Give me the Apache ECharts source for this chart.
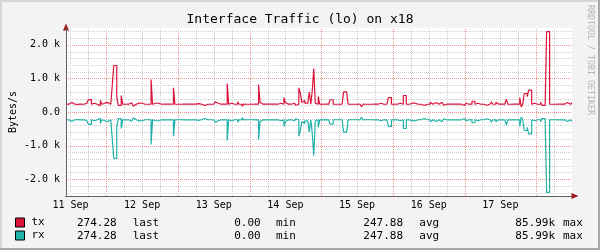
<!DOCTYPE html>
<html><head><meta charset="utf-8">
<script src="https://cdn.jsdelivr.net/npm/echarts@6/dist/echarts.min.js"></script>
<style>html,body{margin:0;padding:0;background:#f3f3f3}#c{width:600px;height:250px}</style>
</head><body><div id="c"></div>
<script>
// ---------- texts ----------
const TITLE = 'Interface Traffic (lo) on x18';
const Y_NAME = 'Bytes/s';
const CREDIT = 'RRDTOOL / TOBI OETIKER';
// ---------- x axis (hours since 11 Sep 00:00) ----------
const dayLabels = ['11 Sep','12 Sep','13 Sep','14 Sep','15 Sep','16 Sep','17 Sep'];
const dayLabelHours = [12, 36, 60, 84, 108, 132, 156];
const START_HOUR = 10.5, STEP_HOURS = 0.5, END_HOUR = 180;
// ---------- y axis ----------
const yTickValues = [-2000, -1000, 0, 1000, 2000];
const yTickLabels = ['-2.0 k', '-1.0 k', '0.0', '1.0 k', '2.0 k'];
// ---------- series (bytes/s, 30 min steps) ----------
const seriesNames = ['tx', 'rx'];
const txValues = [
230,232,285,285,232,230,230,228,230,232,230,230,262,262,230,370,370,232,262,262,
232,230,190,340,232,262,232,285,232,230,230,800,1384,1384,450,195,195,491,232,230,
265,232,230,275,232,175,230,232,265,232,260,232,230,232,230,228,232,967,232,260,
232,260,232,230,230,232,230,232,200,232,270,232,720,232,230,232,230,230,232,230,
232,262,232,230,232,262,232,230,250,232,230,232,195,232,230,232,230,228,232,230,
300,262,262,232,230,232,195,232,848,232,262,232,230,232,230,300,232,230,165,232,
230,232,230,232,230,228,232,230,232,818,285,232,262,232,230,232,230,232,262,232,
230,232,230,262,232,230,430,285,232,230,232,230,262,232,200,232,720,560,285,340,
262,262,232,590,232,640,1295,262,232,460,232,230,262,232,262,232,230,365,365,232,
230,232,230,232,230,232,600,600,600,232,230,232,230,232,230,228,232,230,160,232,
230,232,230,232,230,262,232,230,232,230,262,232,230,285,232,230,430,430,232,230,
262,232,230,262,232,230,491,491,232,230,232,262,262,262,232,230,232,230,195,195,
232,230,232,230,290,232,230,280,262,232,230,290,290,200,232,230,232,262,232,230,
232,262,232,230,232,230,195,232,262,232,230,232,320,320,232,262,232,230,232,230,
280,200,232,230,232,300,232,230,290,232,230,232,230,232,230,385,232,230,262,232,
230,232,230,232,430,150,232,550,550,455,650,650,232,262,232,230,232,230,290,195,
195,232,2390,2390,232,230,232,230,262,232,230,232,230,232,230,280,232,232,274
];
// loopback interface: rx identical to tx (drawn mirrored below zero)
const rxValues = [
230,232,285,285,232,230,230,228,230,232,230,230,262,262,230,370,370,232,262,262,
232,230,190,340,232,262,232,285,232,230,230,800,1384,1384,450,195,195,491,232,230,
265,232,230,275,232,175,230,232,265,232,260,232,230,232,230,228,232,967,232,260,
232,260,232,230,230,232,230,232,200,232,270,232,720,232,230,232,230,230,232,230,
232,262,232,230,232,262,232,230,250,232,230,232,195,232,230,232,230,228,232,230,
300,262,262,232,230,232,195,232,848,232,262,232,230,232,230,300,232,230,165,232,
230,232,230,232,230,228,232,230,232,818,285,232,262,232,230,232,230,232,262,232,
230,232,230,262,232,230,430,285,232,230,232,230,262,232,200,232,720,560,285,340,
262,262,232,590,232,640,1295,262,232,460,232,230,262,232,262,232,230,365,365,232,
230,232,230,232,230,232,600,600,600,232,230,232,230,232,230,228,232,230,160,232,
230,232,230,232,230,262,232,230,232,230,262,232,230,285,232,230,430,430,232,230,
262,232,230,262,232,230,491,491,232,230,232,262,262,262,232,230,232,230,195,195,
232,230,232,230,290,232,230,280,262,232,230,290,290,200,232,230,232,262,232,230,
232,262,232,230,232,230,195,232,262,232,230,232,320,320,232,262,232,230,232,230,
280,200,232,230,232,300,232,230,290,232,230,232,230,232,230,385,232,230,262,232,
230,232,230,232,430,150,232,550,550,455,650,650,232,262,232,230,232,230,290,195,
195,232,2390,2390,232,230,232,230,262,232,230,232,230,232,230,280,232,232,274
];
// ---------- legend statistics ----------
const statNames = ['last', 'min', 'avg', 'max'];
const txStats = ['274.28', '0.00', '247.88', '85.99k'];
const rxStats = ['274.28', '0.00', '247.88', '85.99k'];

// ---------- styling ----------
const FONT = '"DejaVu Sans Mono", monospace';
const TX_COLOR = '#dc143c', RX_COLOR = '#20b2aa';
const GRID_C = '#cdcdcd', MGRID_C = '#f29090';
const AXIS_C = '#606060', ARROW_C = '#a01818';
const Y_MIN = -2500, Y_MAX = 2500;

function toPairs(vals, sign) {
  const out = vals.map((v, j) => [START_HOUR + j * STEP_HOURS, sign * v]);
  out.push([END_HOUR, sign * vals[vals.length - 1]]);
  return out;
}
// grid lines
const vGrid = [];
for (let h = 12; h < END_HOUR; h += 6) vGrid.push({value: [h, 0], major: h % 24 === 0});
const hGrid = [];
for (let v = -2400; v <= 2400; v += 200) hGrid.push({value: [START_HOUR, v], major: v % 1000 === 0});

function xFmt(v) {
  for (let i = 0; i < dayLabelHours.length; i++) if (Math.abs(v - dayLabelHours[i]) < 1e-6) return dayLabels[i];
  return '';
}
function yFmt(v) {
  for (let i = 0; i < yTickValues.length; i++) if (Math.abs(v - yTickValues[i]) < 1e-6) return yTickLabels[i];
  return '';
}

const chart = echarts.init(document.getElementById('c'), null, {renderer: 'canvas'});

const statX = [116.7, 260.7, 403, 555];
const nameX = [132.7, 276, 419.3, 563];
const rowY = [223, 236.5];
const graphics = [
  {type: 'rect', shape: {x: 0, y: 0, width: 600, height: 2}, style: {fill: '#d6d6d6'}, silent: true},
  {type: 'rect', shape: {x: 0, y: 0, width: 2, height: 250}, style: {fill: '#d6d6d6'}, silent: true},
  {type: 'rect', shape: {x: 0, y: 248, width: 600, height: 2}, style: {fill: '#a8a8a8'}, silent: true},
  {type: 'rect', shape: {x: 598, y: 0, width: 2, height: 250}, style: {fill: '#a8a8a8'}, silent: true},
  {type: 'text', x: 590.5, y: 5, rotation: -Math.PI / 2,
   style: {text: CREDIT, font: '8.3px ' + FONT, fill: '#b4b4b4', align: 'left', verticalAlign: 'middle'}, silent: true}
];
[txStats, rxStats].forEach((stats, r) => {
  stats.forEach((s, k) => {
    graphics.push({type: 'text', x: statX[k], y: rowY[r],
      style: {text: s, font: '11px ' + FONT, fill: '#000', align: 'right', verticalAlign: 'middle'}, silent: true});
    graphics.push({type: 'text', x: nameX[k], y: rowY[r],
      style: {text: statNames[k], font: '11px ' + FONT, fill: '#000', align: 'left', verticalAlign: 'middle'}, silent: true});
  });
});

function vGridItem(params, api) {
  const h = api.value(0);
  const p1 = api.coord([h, Y_MIN]), p2 = api.coord([h, Y_MAX]);
  const x = Math.round(p1[0]) + 0.5;
  const major = vGrid[params.dataIndex].major;
  return {type: 'line', silent: true, shape: {x1: x, y1: p1[1], x2: x, y2: p2[1]},
    style: {stroke: major ? MGRID_C : GRID_C, fill: null, lineWidth: 1, lineDash: [1, 1]}};
}
function hGridItem(params, api) {
  const v = api.value(1);
  const p1 = api.coord([START_HOUR, v]), p2 = api.coord([END_HOUR, v]);
  const y = Math.round(p1[1]) + 0.5;
  const major = hGrid[params.dataIndex].major;
  return {type: 'line', silent: true, shape: {x1: p1[0], y1: y, x2: p2[0], y2: y},
    style: {stroke: major ? MGRID_C : GRID_C, fill: null, lineWidth: 1, lineDash: [1, 1]}};
}

chart.setOption({
  animation: false,
  backgroundColor: '#f3f3f3',
  title: {text: TITLE, left: 'center', top: 13, padding: 0,
    textStyle: {fontFamily: FONT, fontSize: 13, fontWeight: 'normal', color: '#000'}},
  grid: {left: 66, right: 28, top: 28, bottom: 54, show: true, backgroundColor: '#fff', borderWidth: 0,
    containLabel: false, outerBoundsMode: 'none'},
  legend: {data: seriesNames, orient: 'vertical', left: 15, top: 217, padding: 0, itemWidth: 9, itemHeight: 9, itemGap: 2,
    icon: 'rect', selectedMode: false,
    itemStyle: {borderColor: '#000', borderWidth: 1},
    textStyle: {fontFamily: FONT, fontSize: 11, color: '#000', padding: [0, 0, 0, 2]}},
  xAxis: [
    {type: 'value', min: START_HOUR, max: END_HOUR, interval: 1.5, position: 'bottom', z: 4,
     axisLine: {show: true, onZero: false, lineStyle: {color: AXIS_C, width: 1}},
     axisTick: {show: false}, splitLine: {show: false}, minorSplitLine: {show: false},
     axisLabel: {formatter: xFmt, fontFamily: FONT, fontSize: 10, color: '#000', margin: 4, showMinLabel: true, showMaxLabel: true}},
    {type: 'value', min: START_HOUR, max: END_HOUR, position: 'bottom', offset: 0, z: 3,
     axisLine: {show: true, onZero: false, symbol: ['none', 'triangle'], symbolSize: [6, 7], symbolOffset: [0, 3],
       lineStyle: {color: ARROW_C, width: 1}},
     axisTick: {show: false}, axisLabel: {show: false}, splitLine: {show: false}}
  ],
  yAxis: [
    {type: 'value', min: Y_MIN, max: Y_MAX, interval: 500, position: 'left', z: 4,
     axisLine: {show: true, onZero: false, lineStyle: {color: AXIS_C, width: 1}},
     axisTick: {show: false}, splitLine: {show: false},
     axisLabel: {formatter: yFmt, fontFamily: FONT, fontSize: 10, color: '#000', margin: 6},
     name: Y_NAME, nameLocation: 'middle', nameGap: 48, nameMoveOverlap: false,
     nameTextStyle: {fontFamily: FONT, fontSize: 10, color: '#000'}},
    {type: 'value', min: Y_MIN, max: Y_MAX, position: 'left', offset: 0, z: 3,
     axisLine: {show: true, onZero: false, symbol: ['none', 'triangle'], symbolSize: [6, 7], symbolOffset: [0, 1],
       lineStyle: {color: ARROW_C, width: 1}},
     axisTick: {show: false}, axisLabel: {show: false}, splitLine: {show: false}}
  ],
  graphic: graphics,
  series: [
    {type: 'custom', name: 'vgrid', xAxisIndex: 0, yAxisIndex: 0, data: vGrid, renderItem: vGridItem, z: 1, silent: true},
    {type: 'custom', name: 'hgrid', xAxisIndex: 0, yAxisIndex: 0, data: hGrid, renderItem: hGridItem, z: 1, silent: true},
    {type: 'line', name: 'tx', xAxisIndex: 0, yAxisIndex: 0, step: 'end', data: toPairs(txValues, 1),
     showSymbol: false, symbol: 'none', color: TX_COLOR, lineStyle: {color: TX_COLOR, width: 1.2}, z: 3},
    {type: 'line', name: 'rx', xAxisIndex: 0, yAxisIndex: 0, step: 'end', data: toPairs(rxValues, -1),
     showSymbol: false, symbol: 'none', color: RX_COLOR, lineStyle: {color: RX_COLOR, width: 1.2}, z: 3}
  ]
});
</script></body></html>
